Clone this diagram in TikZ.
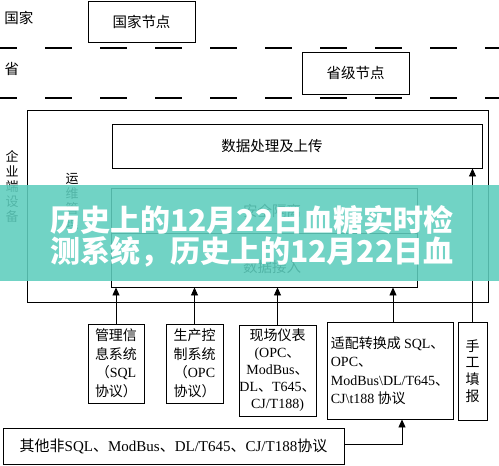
\documentclass[tikz,border=0pt]{standalone}
\usepackage{fontspec}
\setmainfont{Liberation Serif}
\newfontfamily\zh{Noto Sans CJK SC}
\usetikzlibrary{arrows.meta}
\newcommand\lat[1]{{\rmfamily #1}}
\definecolor{bannerc}{RGB}{94,206,190}
\begin{document}
\begin{tikzpicture}[x=1pt,y=-1pt,
  box/.style={draw, line width=0.9pt, inner sep=0pt},
  txt/.style={inner sep=0pt, font=\zh\fontsize{14.5}{16}\selectfont},
  small/.style={inner sep=0pt, align=center, font=\zh\fontsize{14}{18.5}\selectfont},
  vert/.style={inner sep=0pt, align=center, font=\zh\fontsize{13}{15}\selectfont},
  arr/.style={line width=0.9pt, -{Triangle[length=8pt,width=7pt]}},
  dashline/.style={line width=1.1pt, dash pattern=on 27pt off 28pt, dash phase=10pt},
  bannertxt/.style={inner sep=0pt, anchor=west, text=white, font=\zh\bfseries\fontsize{30}{32}\selectfont}]
\useasboundingbox (0,0) rectangle (499,466);
\fill[white] (0,0) rectangle (499,466);

% level labels and dashed separators
\node[txt] (gj) at (19,18) {国家};
\node[txt] (sheng) at (12,69) {省};
\coordinate (d1a) at (0,48); \coordinate (d1b) at (499,48);
\coordinate (d2a) at (0,98); \coordinate (d2b) at (499,98);
\draw[dashline] (d1a) -- (d1b);
\draw[dashline] (d2a) -- (d2b);

% national / provincial nodes
\node[box, txt, minimum width=107pt, minimum height=41pt] (gjnode) at (141.5,21.5) {国家节点};
\node[box, txt, minimum width=107pt, minimum height=42pt] (sjnode) at (355.5,73) {省级节点};

% enterprise box
\node[box, minimum width=461pt, minimum height=192pt] (ent) at (257.5,206) {};
\node[vert] (qy) at (12,186.5) {企\\业\\端\\设\\备};
\node[vert] (yw) at (72,201) {运\\维\\管\\理};

% data processing box
\node[box, minimum width=370pt, minimum height=44pt] (data) at (297,146) {};
\node[txt] (datat) at (272,146) {数据处理及上传};

% security / data access box
\node[box, minimum width=306pt, minimum height=99pt] (acc) at (264,237.5) {};
\coordinate (split) at (0,233);
\draw[line width=0.9pt] (acc.west |- split) -- (acc.east |- split);
\node[txt] (aq) at (272,211) {安全隔离};
\node[txt] (sjjr) at (272,267) {数据接入};

% bottom source boxes
\node[box, small, minimum width=56pt, minimum height=79pt] (A) at (116,363.5)
  {管理信\\息系统\\（\lat{SQL}\\协议）};
\node[box, small, minimum width=57pt, minimum height=79pt] (B) at (194.5,363.5)
  {生产控\\制系统\\（\lat{OPC}\\协议）};
\node[box, small, font=\zh\fontsize{14}{17}\selectfont, minimum width=77pt, minimum height=91pt] (C) at (277.5,370.5)
  {现场仪表\\\lat{(OPC}、\\\lat{ModBus}、\\\lat{DL}、\lat{T645}、\\\lat{CJ/T188)}};
\node[box, small, align=left, font=\zh\fontsize{14}{18.5}\selectfont, minimum width=126pt, minimum height=97pt] (D) at (390,370.5)
  {适配转换成 \lat{SQL}、\\\lat{OPC}、\\\lat{ModBus\textbackslash DL/T645}、\\\lat{CJ\textbackslash t188} 协议};
\node[box, small, font=\zh\fontsize{14}{16.7}\selectfont, minimum width=29pt, minimum height=98pt] (E) at (472.5,371)
  {手\\工\\填\\报};
\node[box, txt, font=\zh\fontsize{15}{16}\selectfont, minimum width=341pt, minimum height=36pt] (F) at (173.5,446)
  {其他非\lat{SQL}、\lat{ModBus}、\lat{DL/T645}、\lat{CJ/T188}协议};

% arrows
\draw[arr] (A.north) -- (A.north |- acc.south);
\draw[arr] (B.north) -- (B.north |- acc.south);
\draw[arr] (C.north) -- (C.north |- acc.south);
\draw[arr] ([xshift=3pt]D.north) -- ([xshift=3pt]D.north |- acc.south);
\draw[arr] (E.north) -- (E.north |- data.south);
\draw[arr] ([yshift=2pt]F.east) -| ([xshift=12pt]D.south);

% overlay banner
\fill[bannerc, opacity=0.88] (0,185) rectangle (499,281);
\node[bannertxt] (b1) at (50,220) {历史上的12月22日血糖实时检};
\node[bannertxt] (b2) at (50,252) {测系统，历史上的12月22日血};
\end{tikzpicture}
\end{document}
